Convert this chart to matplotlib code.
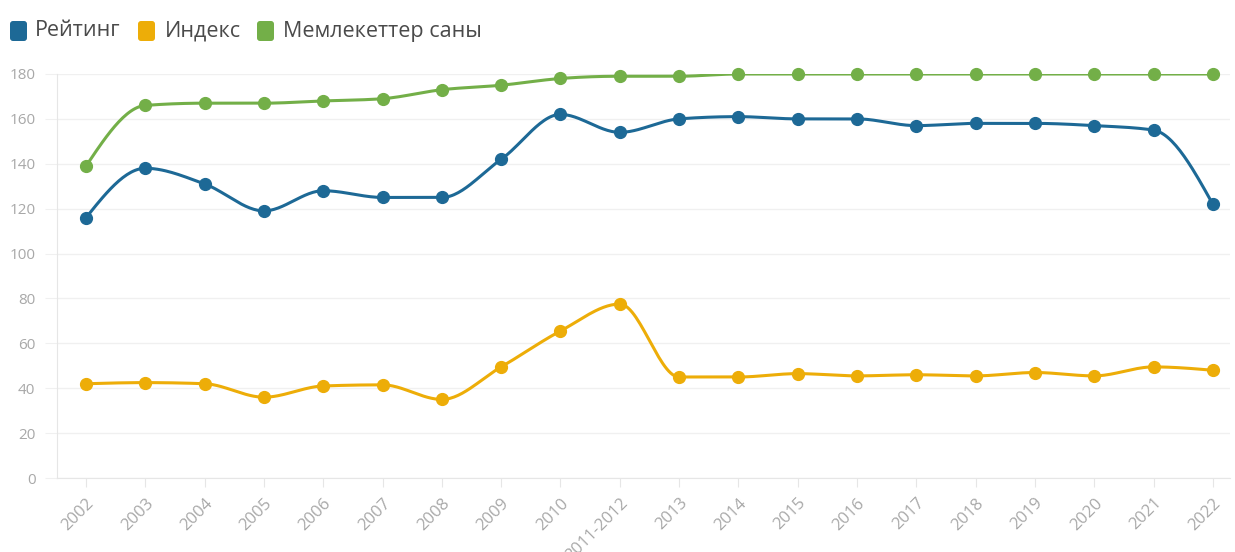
# plot.py
# rating / index / number of countries, 2002-2022

import numpy as np
import matplotlib.pyplot as plt
import matplotlib.transforms as mtransforms
from matplotlib.patches import FancyBboxPatch

years = ["2002", "2003", "2004", "2005", "2006", "2007", "2008", "2009", "2010",
         "2011-2012", "2013", "2014", "2015", "2016", "2017", "2018", "2019",
         "2020", "2021", "2022"]
rating = [116, 138, 131, 119, 128, 125, 125, 142, 162, 154,
          160, 161, 160, 160, 157, 158, 158, 157, 155, 122]
index_vals = [42, 42.5, 42, 36, 41, 41.5, 35, 49.5, 65.5, 77.5,
              45, 45, 46.5, 45.5, 46, 45.5, 47, 45.5, 49.5, 48]
countries = [139, 166, 167, 167, 168, 169, 173, 175, 178, 179,
             179, 180, 180, 180, 180, 180, 180, 180, 180, 180]

names = ["Рейтинг", "Индекс", "Мемлекеттер саны"]
colors = ["#1D6996", "#EDAD08", "#73AF48"]


def monotone_slopes(y):
    """Tangents like d3 curveMonotoneX (unit spacing)."""
    d = np.diff(y)
    m = np.zeros_like(y)
    for i in range(1, len(y) - 1):
        s0, s1 = d[i - 1], d[i]
        p = (s0 + s1) / 2
        sg = (1 if s0 >= 0 else -1) + (1 if s1 >= 0 else -1)
        m[i] = sg * min(abs(s0), abs(s1), 0.5 * abs(p))
    m[0] = (3 * d[0] - m[1]) / 2
    m[-1] = (3 * d[-1] - m[-2]) / 2
    return m


def smooth(y, n=30):
    y = np.asarray(y, dtype=float)
    m = monotone_slopes(y)
    t = np.linspace(0, 1, n)
    h00 = 2 * t**3 - 3 * t**2 + 1
    h10 = t**3 - 2 * t**2 + t
    h01 = -2 * t**3 + 3 * t**2
    h11 = t**3 - t**2
    xs, ys = [], []
    for i in range(len(y) - 1):
        xs.append(i + t)
        ys.append(h00 * y[i] + h10 * m[i] + h01 * y[i + 1] + h11 * m[i + 1])
    return np.concatenate(xs), np.concatenate(ys)


plt.rcParams['font.family'] = ['Open Sans', 'DejaVu Sans']

W, H = 1235, 552
fig = plt.figure(figsize=(W / 100, H / 100), dpi=100)
ax = fig.add_axes([57 / W, (H - 478) / H, (1230 - 57) / W, (478 - 74) / H])

x = np.arange(len(years))
for vals, col in zip([rating, index_vals, countries], colors):
    sx, sy = smooth(vals)
    ax.plot(sx, sy, color=col, lw=2.2, zorder=3, solid_capstyle='round')
    ax.plot(x, vals, 'o', color=col, ms=8.5, zorder=4, clip_on=False)

ax.set_xlim(-0.49, 19.29)
ax.set_ylim(0, 180)
ax.set_yticks(range(0, 181, 20))
ax.set_xticks(x)
ax.set_xticklabels(years, rotation=45, ha='right', rotation_mode='anchor')
offset = mtransforms.ScaledTranslation(8 / 100, -3 / 100, fig.dpi_scale_trans)
for lab in ax.get_xticklabels():
    lab.set_transform(lab.get_transform() + offset)

ax.grid(axis='y', color='#f0f0f0', lw=1)
ax.set_axisbelow(True)
for s in ['top', 'right']:
    ax.spines[s].set_visible(False)
for s in ['left', 'bottom']:
    ax.spines[s].set_color('#e6e6e6')
ax.tick_params(axis='x', colors='#e6e6e6', length=6.5, labelcolor='#a8a8a8',
               labelsize=12, pad=5.8)
ax.tick_params(axis='y', colors='#f0f0f0', length=8.5, labelcolor='#a8a8a8',
               labelsize=11, pad=7)

# legend on top (positions in pixels -> inches)
lx = [10, 138, 257]
tx = [35, 165, 283]
for i in range(3):
    fig.patches.append(FancyBboxPatch(
        (lx[i] / 100, (H - 41) / 100), 0.17, 0.20,
        boxstyle="round,pad=0,rounding_size=0.03",
        transform=fig.dpi_scale_trans, facecolor=colors[i], edgecolor='none'))
    fig.text(tx[i] / W, (H - 31) / H, names[i], color='#4a4a4a',
             fontsize=15.5, va='center', ha='left')

fig.savefig("out.png", dpi=100)
